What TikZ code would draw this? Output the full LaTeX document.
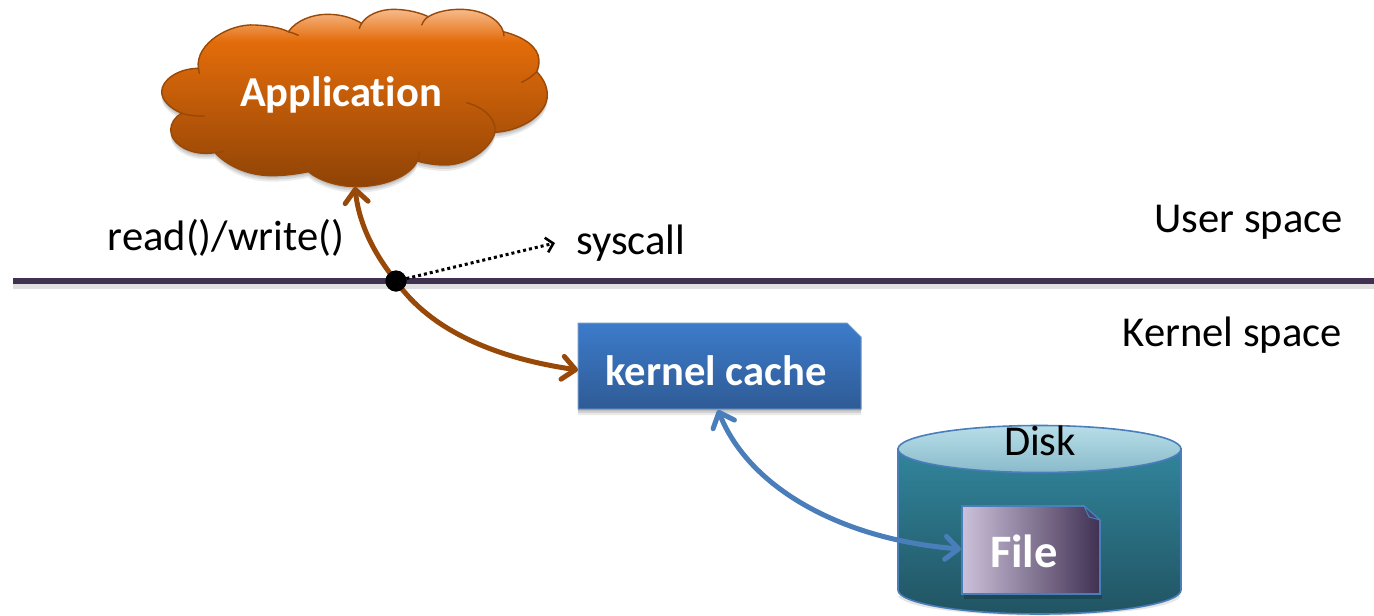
\documentclass[tikz,border=0pt]{standalone}
\usepackage{fontspec}
\setmainfont[Ligatures=NoCommon]{Carlito}
\usetikzlibrary{arrows.meta,calc}
\definecolor{brownarrow}{HTML}{984807}
\definecolor{bluearrow}{HTML}{4A7EBB}
\definecolor{linepurple}{HTML}{403152}
\definecolor{cloudA}{HTML}{8F4306}
\definecolor{cloudB}{HTML}{E36C0A}
\definecolor{cloudC}{HTML}{F7BA8A}
\definecolor{cacheA}{HTML}{2F5B96}
\definecolor{cacheB}{HTML}{3C7BCA}
\definecolor{diskA}{HTML}{215462}
\definecolor{diskB}{HTML}{31859C}
\definecolor{lidA}{HTML}{8ABACA}
\definecolor{lidB}{HTML}{B7DEE8}
\definecolor{fileA}{HTML}{CCC1DA}
\pgfdeclareverticalshading{cloudshade}{100bp}{color(0bp)=(cloudA);color(25bp)=(cloudA);color(66bp)=(cloudB);color(75bp)=(cloudC);color(100bp)=(cloudC)}
\pgfdeclareverticalshading{cacheshade}{100bp}{color(0bp)=(cacheA);color(25bp)=(cacheA);color(75bp)=(cacheB);color(100bp)=(cacheB)}
\pgfdeclareverticalshading{diskshade}{100bp}{color(0bp)=(diskA);color(25bp)=(diskA);color(75bp)=(diskB);color(100bp)=(diskB)}
\pgfdeclareverticalshading{lidshade}{100bp}{color(0bp)=(lidA);color(25bp)=(lidA);color(75bp)=(lidB);color(100bp)=(lidB)}
\pgfdeclarehorizontalshading{fileshade}{100bp}{color(0bp)=(fileA);color(25bp)=(fileA);color(75bp)=(linepurple);color(100bp)=(linepurple)}
\newcommand{\cloudoutline}{(175,205) .. controls (165,130) and (270,70) .. (345,75) .. controls (390,77) and (425,85) .. (445,95)
 .. controls (470,60) and (520,42) .. (565,43) .. controls (610,43) and (645,58) .. (665,70)
 .. controls (680,45) and (720,28) .. (760,28) .. controls (805,28) and (845,40) .. (865,50)
 .. controls (890,35) and (925,28) .. (960,28) .. controls (1030,28) and (1080,60) .. (1090,95)
 .. controls (1150,110) and (1195,140) .. (1197,180) .. controls (1197,195) and (1195,205) .. (1190,215)
 .. controls (1210,235) and (1222,260) .. (1222,285) .. controls (1222,340) and (1150,392) .. (1065,397)
 .. controls (1050,450) and (980,495) .. (915,495) .. controls (885,495) and (855,490) .. (832,483)
 .. controls (810,530) and (730,560) .. (650,560) .. controls (590,560) and (535,540) .. (505,515)
 .. controls (470,522) and (435,527) .. (395,527) .. controls (320,527) and (260,495) .. (225,458)
 .. controls (150,470) and (92,430) .. (92,390) .. controls (92,370) and (105,350) .. (125,340)
 .. controls (90,325) and (65,300) .. (65,275) .. controls (65,240) and (115,205) .. (175,205) -- cycle}
\newcommand{\softshadow}[1]{%
 \fill[black,opacity=.10,yshift=-2pt] #1;
 \fill[black,opacity=.10,yshift=-4pt] #1;
 \fill[black,opacity=.08,yshift=-6pt] #1;}
\tikzset{
 plaintext/.style={font=\fontsize{42.6}{43}\selectfont,text=black,inner sep=0pt,anchor=center},
 boldlabel/.style={font=\fontsize{#1}{#1}\selectfont\bfseries,text=white,inner sep=0pt},
 brownline/.style={draw=brownarrow,line width=5pt,line cap=round},
 blueline/.style={draw=bluearrow,line width=5pt,line cap=round},
 cloudedge/.style={draw=brownarrow,line width=1.4pt},
 blueedge/.style={draw=bluearrow,line width=1.6pt},
 bighead/.tip={Straight Barb[length=13pt,width=23pt,line width=5pt,round]},
}
\begin{document}
\begin{tikzpicture}[x=1pt,y=-1pt]
\useasboundingbox (0,0) rectangle (1374,616);
% divider
\fill[black,opacity=.12] (13,283) rectangle (1374,289);
\coordinate (lineL) at (13,281);
\coordinate (lineR) at (1374,281);
\draw[linepurple,line width=5.5pt] (lineL) -- (lineR);
% cloud
\begin{scope}[shift={(140,0)},x=0.33333pt,y=-0.33333pt]
 \softshadow{\cloudoutline}
 \shade[shading=cloudshade,cloudedge] \cloudoutline;
 \draw[cloudedge,line cap=round]
  (445,95) .. controls (455,98) and (465,101) .. (475,106)
  (665,70) .. controls (662,75) and (659,80) .. (658,85)
  (865,50) .. controls (855,56) and (850,64) .. (845,75)
  (1090,95) -- (1092,108)
  (1190,215) .. controls (1178,228) and (1160,240) .. (1145,247)
  (980,308) .. controls (1030,322) and (1070,355) .. (1065,397)
  (832,483) .. controls (836,474) and (838,465) .. (838,455)
  (505,515) .. controls (498,507) and (493,498) .. (490,487)
  (225,458) .. controls (233,457) and (243,456) .. (250,454)
  (125,340) .. controls (145,346) and (170,349) .. (193,348)
  (175,205) .. controls (175,210) and (176,215) .. (178,220);
\end{scope}
\node[boldlabel=42.6] (app) at (341,95) {Application};
\coordinate (appBottom) at (355,187);
% disk
\fill[black,opacity=.10] (898,596) .. controls (915,622) and (1165,622) .. (1181,596) -- cycle;
\shade[shading=diskshade,blueedge] (898,449) -- (898,590) .. controls (898,603) and (960,614) .. (1039.5,614) .. controls (1119,614) and (1181,603) .. (1181,590) -- (1181,449) -- cycle;
\shade[shading=lidshade,blueedge] (1039.5,449) ellipse [x radius=141.5,y radius=23.5];
\node[plaintext] (disk) at (1040,441) {Disk};
% file
\fill[black,opacity=.18] (964,595) rectangle (1102,599);
\shade[shading=fileshade,blueedge] (962,506) -- (1084,506) -- (1100,520) -- (1100,594) -- (962,594) -- cycle;
\fill[linepurple!70!bluearrow,draw=bluearrow,line width=1pt] (1084,506) -- (1100,520) -- (1089,517) -- cycle;
\node[boldlabel=46.5] (file) at (1024,551) {File};
\coordinate (fileWest) at (961,549);
% kernel cache
\softshadow{(578,323) -- (847,323) -- (861,337) -- (861,409) -- (578,409) -- cycle}
\shade[shading=cacheshade,draw=bluearrow!80!white,line width=1pt] (578,323) -- (847,323) -- (861,337) -- (861,409) -- (578,409) -- cycle;
\node[boldlabel=42.6] (cache) at (716,371) {kernel cache};
\coordinate (cacheWest) at (578,370);
\coordinate (cacheBottom) at (718,410);
% syscall dot and connectors
\node[circle,fill=black,minimum size=21pt,inner sep=0pt] (dot) at (396,281) {};
\draw[brownline,-{bighead}] (dot.center) .. controls (375,255) and (359,225) .. (appBottom);
\draw[brownline,-{bighead}] (dot.center) .. controls (430,330) and (495,358) .. (cacheWest);
\draw[blueline,{bighead}-{bighead}] (cacheBottom) .. controls (750,490) and (845,540) .. (fileWest);
\node[circle,fill=black,minimum size=21pt,inner sep=0pt] at (dot.center) {};
\node[plaintext,anchor=west] (syscall) at (576,243) {syscall};
\coordinate (syscallTip) at (555,243);
\draw[black,line width=3pt,dash pattern=on 3pt off 3pt,-{Straight Barb[length=7pt,width=15pt,line width=2.6pt]}] (dot) -- (syscallTip);
\node[plaintext] (rw) at (226,238) {read()/write()};
\node[plaintext,anchor=east] (user) at (1343,222) {User space};
\node[plaintext,anchor=east] (kernel) at (1342,335) {Kernel space};
\end{tikzpicture}
\end{document}
